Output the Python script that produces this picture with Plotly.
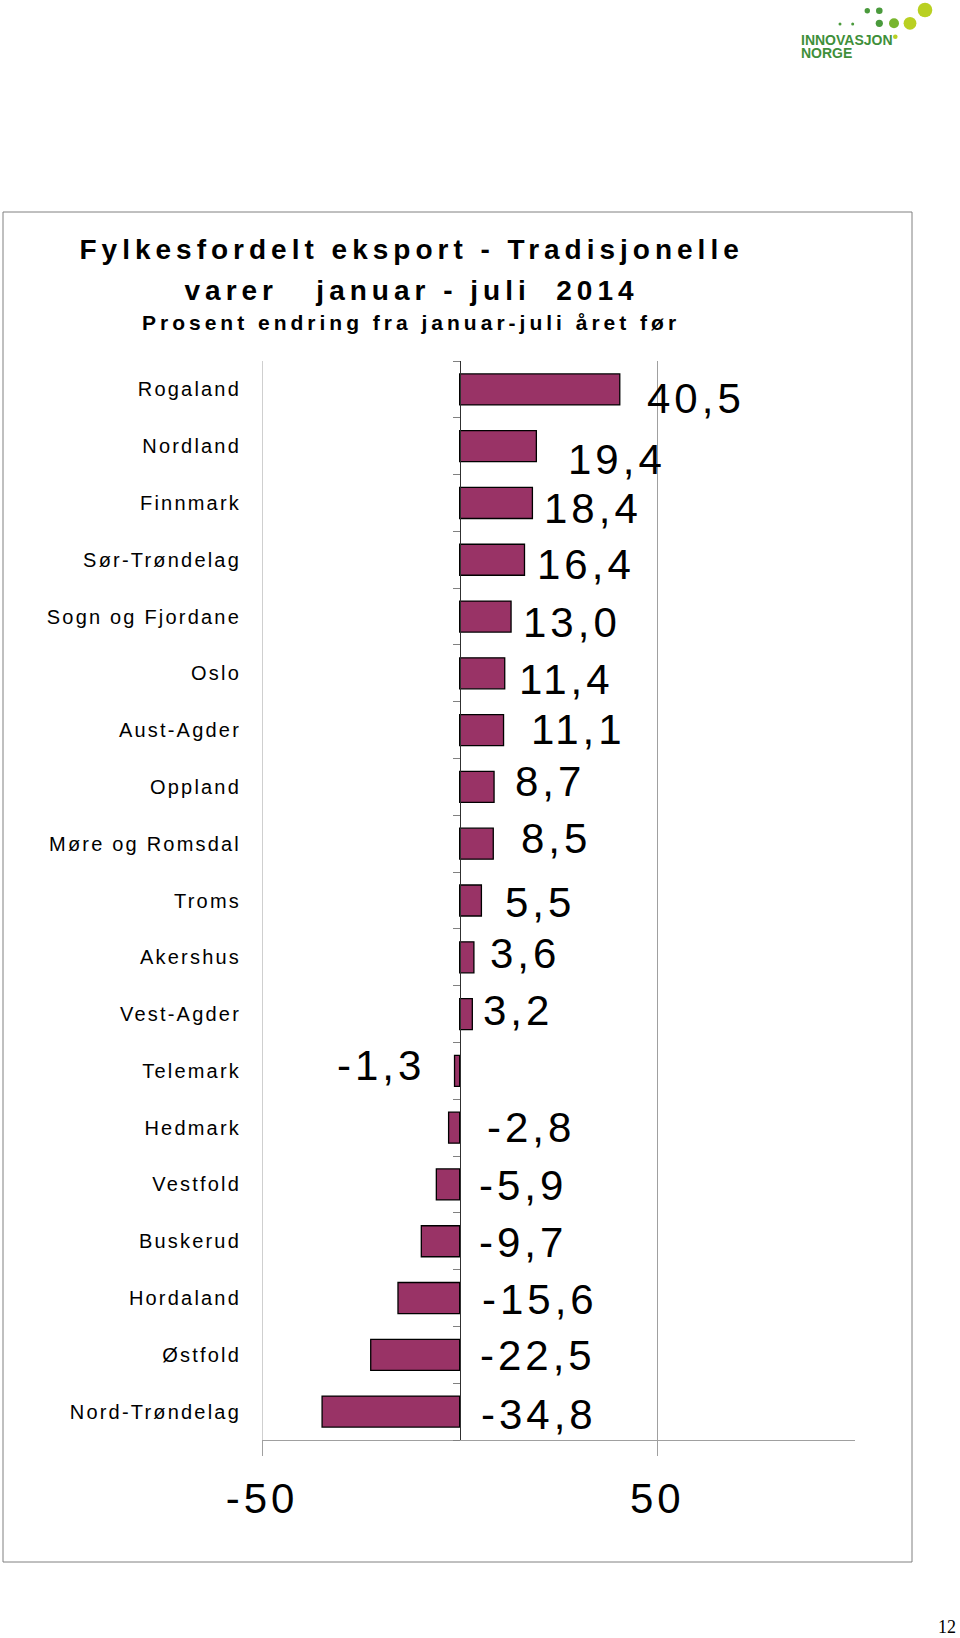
import json
import plotly.graph_objects as go

# ---------------- data ----------------
categories = ["Rogaland", "Nordland", "Finnmark", "Sør-Trøndelag", "Sogn og Fjordane",
              "Oslo", "Aust-Agder", "Oppland", "Møre og Romsdal", "Troms", "Akershus",
              "Vest-Agder", "Telemark", "Hedmark", "Vestfold", "Buskerud", "Hordaland",
              "Østfold", "Nord-Trøndelag"]
values = [40.5, 19.4, 18.4, 16.4, 13.0, 11.4, 11.1, 8.7, 8.5, 5.5, 3.6, 3.2,
          -1.3, -2.8, -5.9, -9.7, -15.6, -22.5, -34.8]
x_tickvals = [-50, 50]
x_ticktext = ["-50", "50"]

title_lines = ["Fylkesfordelt eksport - Tradisjonelle",
               "varer\u00a0\u00a0 januar - juli\u00a0 2014",
               "Prosent endring fra januar-juli året før"]

# ---------------- label placement (layout, not data) ----------------
label_cx = [59.9, 39.7, 33.6, 31.9, 28.3, 27.0, 30.0, 22.9, 24.3, 20.2, 16.4, 14.8,
            -20.0, 18.0, 16.1, 16.1, 20.2, 19.8, 20.1]
label_dy = [-9, -13, -6, -5, -6, -6, 1, 5, 5, -2, 4, 4, 5, 0, -1, -1, -1, -1, -3]

# ---------------- geometry helpers ----------------
W, H = 960, 1638
L, R, T, B = 262, 855, 361, 1440
X_MIN, X_MAX = -50, 100


def px(x):
    return (x - L) / (R - L)


def py(y):
    return (B - y) / (B - T)


FONT = "Liberation Sans, Arial, sans-serif"
BAR_COLOR = "#993366"
GRID = "#a0a0a0"

fig = go.Figure()
fig.add_trace(go.Bar(
    x=values, y=categories, orientation="h",
    marker=dict(color=BAR_COLOR, line=dict(color="#000000", width=1.3)),
    width=0.546, hoverinfo="x+y", showlegend=False,
))
# invisible helper trace so the category-boundary axis at x=0 is drawn
fig.add_trace(go.Scatter(x=[None], y=[None], yaxis="y2", mode="markers",
                         showlegend=False, hoverinfo="skip"))

annotations = []
letter_spacing = []

# data labels
for v, c, cx, dy in zip(values, categories, label_cx, label_dy):
    annotations.append(dict(
        x=cx, y=c, xref="x", yref="y", text=f"{v:.1f}".replace(".", ","),
        showarrow=False, xanchor="center", yanchor="middle", yshift=dy,
        font=dict(family=FONT, size=42, color="#000000"),
    ))
    letter_spacing.append("4px")

# title lines
title_specs = [(title_lines[0], 28, 249.5, "5px"),
               (title_lines[1], 28, 290.5, "5px"),
               (title_lines[2], 21, 322.5, "4px")]
for txt, size, yc, ls in title_specs:
    annotations.append(dict(
        x=px(411), y=py(yc), xref="paper", yref="paper", text=f"<b>{txt}</b>",
        showarrow=False, xanchor="center", yanchor="middle",
        font=dict(family=FONT, size=size, color="#000000"),
    ))
    letter_spacing.append(ls)

# logo text
LOGO_GREEN = "#3f8f3a"
for txt, yc in [("INNOVASJON", 40), ("NORGE", 53)]:
    annotations.append(dict(
        x=px(799), y=py(yc), xref="paper", yref="paper", text=f"<b>{txt}</b>",
        showarrow=False, xanchor="left", yanchor="middle",
        font=dict(family=FONT, size=14, color=LOGO_GREEN),
    ))
    letter_spacing.append("0px")

# page number
annotations.append(dict(
    x=px(958), y=py(1627), xref="paper", yref="paper", text="12",
    showarrow=False, xanchor="right", yanchor="middle",
    font=dict(family="Liberation Serif, Times New Roman, serif", size=18, color="#000000"),
))
letter_spacing.append("0px")

shapes = []
# outer frame
shapes.append(dict(type="rect", xref="paper", yref="paper",
                   x0=px(3), x1=px(912), y0=py(1562), y1=py(212),
                   line=dict(color="#808080", width=1), fillcolor="rgba(0,0,0,0)",
                   layer="below"))
# gridline at the left edge of the value axis (plotly drops edge gridlines)
shapes.append(dict(type="line", xref="x", yref="paper",
                   x0=X_MIN, x1=X_MIN, y0=0, y1=1,
                   line=dict(color=GRID, width=1), layer="below"))

# logo dots (cx, cy, r, colour)
DARK, MID, LIGHT = "#4a9a3c", "#78b52e", "#b9d022"
logo_dots = [(925, 10, 7.3, LIGHT), (879.3, 23.3, 3.6, DARK), (894, 23.3, 5.0, MID),
             (910, 23.3, 6.4, LIGHT), (867.3, 10.7, 2.7, DARK), (879.3, 10.7, 3.3, DARK),
             (840, 24, 1.5, DARK), (852.7, 24, 1.5, DARK), (895.3, 36.7, 2.3, LIGHT)]
for cx, cy, r, col in logo_dots:
    shapes.append(dict(type="circle", xref="paper", yref="paper",
                       x0=px(cx - r), x1=px(cx + r), y0=py(cy + r), y1=py(cy - r),
                       fillcolor=col, line=dict(width=0)))

n = len(categories)
fig.update_layout(
    width=W, height=H,
    margin=dict(l=L, r=W - R, t=T, b=H - B, pad=0),
    paper_bgcolor="#ffffff", plot_bgcolor="#ffffff",
    showlegend=False,
    annotations=annotations, shapes=shapes,
    xaxis=dict(
        range=[X_MIN, X_MAX], tickvals=x_tickvals, ticktext=x_ticktext,
        showgrid=True, gridcolor=GRID, gridwidth=1,
        zeroline=False, showline=True, linecolor=GRID, linewidth=1,
        ticks="outside", ticklen=15, tickcolor=GRID, tickwidth=1,
        ticklabelstandoff=7,
        tickfont=dict(family=FONT, size=42, color="#000000"),
        fixedrange=True,
    ),
    yaxis=dict(
        type="category", categoryorder="array", categoryarray=categories,
        range=[n - 0.5, -0.5], autorange=False,
        showgrid=False, zeroline=False, showline=False, ticks="",
        ticklabelstandoff=21,
        tickfont=dict(family=FONT, size=20, color="#000000"),
        anchor="free", position=0, fixedrange=True,
    ),
    yaxis2=dict(
        overlaying="y", anchor="free", position=(0 - X_MIN) / (X_MAX - X_MIN), side="left",
        range=[n - 0.5, -0.5], autorange=False,
        tickvals=[i - 0.5 for i in range(n + 1)],
        showticklabels=False, showgrid=False, zeroline=False,
        showline=True, linecolor="#303030", linewidth=1,
        ticks="outside", ticklen=7, tickcolor="#808080", tickwidth=1,
        fixedrange=True,
    ),
)

post_js = """
var gd = document.getElementById('{plot_id}');
var ls = %s;
gd.querySelectorAll('g.ytick text').forEach(function(t){ t.style.letterSpacing = '2.2px'; });
gd.querySelectorAll('g.xtick text').forEach(function(t){ t.style.letterSpacing = '4px'; });
gd.querySelectorAll('g.annotation').forEach(function(a){
  var i = parseInt(a.getAttribute('data-index'));
  var t = a.querySelector('text');
  if (t && ls[i]) { t.style.letterSpacing = ls[i]; }
});
""" % json.dumps(letter_spacing)

fig.write_html("out.html", post_script=post_js, config={"staticPlot": True})
